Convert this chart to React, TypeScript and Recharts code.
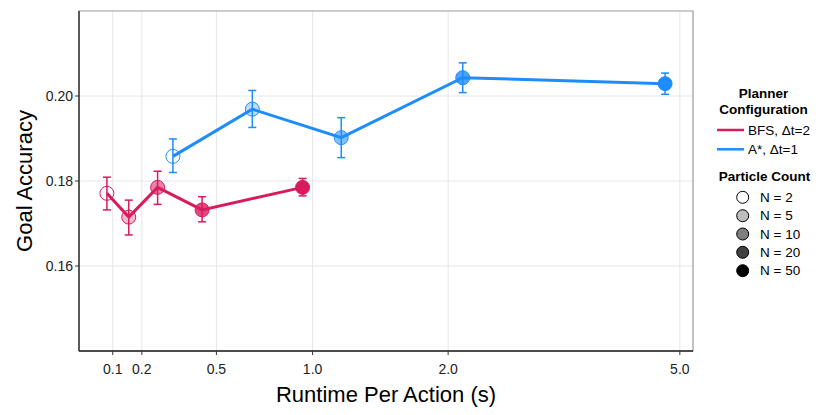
import React from 'react';
import {
  ComposedChart,
  Line,
  XAxis,
  YAxis,
  CartesianGrid,
  ErrorBar,
  ReferenceArea,
  Label,
} from 'recharts';

// runtime per action (s)
const BFS_X = [0.081, 0.154, 0.258, 0.437, 0.941];
const BFS_Y = [0.1771, 0.1715, 0.1785, 0.1732, 0.1785];
const BFS_LO = [0.1732, 0.1673, 0.1745, 0.1704, 0.1765];
const BFS_HI = [0.1809, 0.1755, 0.1823, 0.1763, 0.1806];

const ASTAR_X = [0.317, 0.67, 1.179, 2.134, 4.741];
const ASTAR_Y = [0.1858, 0.1969, 0.1902, 0.2043, 0.2029];
const ASTAR_LO = [0.182, 0.1926, 0.1855, 0.2008, 0.2004];
const ASTAR_HI = [0.1899, 0.2013, 0.1949, 0.2078, 0.2054];

const PARTICLES = [2, 5, 10, 20, 50];

const X_TICKS = [0.1, 0.2, 0.5, 1, 2, 5];
const X_TICK_LABELS = ['0.1', '0.2', '0.5', '1.0', '2.0', '5.0'];
const Y_TICKS = [0.16, 0.18, 0.2];
const Y_DOMAIN: [number, number] = [0.14, 0.22];

const RED = '#d81b5c';
const BLUE = '#1e8cff';
const FONT = '"Liberation Sans", Arial, sans-serif';

const ALPHA: Record<number, number> = { 2: 0, 5: 0.3, 10: 0.55, 20: 0.8, 50: 1 };
const LEGEND_FILL: Record<number, string> = {
  2: '#ffffff',
  5: '#bdbdbd',
  10: '#7f7f7f',
  20: '#404040',
  50: '#000000',
};

// x axis uses a log1p transform
const toRows = (xs: number[], ys: number[], lo: number[], hi: number[]) =>
  xs.map((x, i) => ({
    lx: Math.log1p(x),
    y: ys[i],
    err: [ys[i] - lo[i], hi[i] - ys[i]],
    n: PARTICLES[i],
  }));

const bfsRows = toRows(BFS_X, BFS_Y, BFS_LO, BFS_HI);
const astarRows = toRows(ASTAR_X, ASTAR_Y, ASTAR_LO, ASTAR_HI);

const allL = [...bfsRows, ...astarRows].map((r) => r.lx);
const lMin = Math.min(...allL);
const lMax = Math.max(...allL);
const pad = (lMax - lMin) * 0.05;
const X_DOMAIN: [number, number] = [lMin - pad, lMax + pad];

const makeDot = (color: string) => (props: any) => {
  const { cx, cy, payload, index } = props;
  return (
    <circle
      key={`dot-${color}-${index}`}
      cx={cx}
      cy={cy}
      r={7}
      fill={color}
      fillOpacity={ALPHA[payload.n]}
      stroke={color}
      strokeWidth={1}
    />
  );
};

function LegendPanel() {
  const rows = [117.3, 135.7, 154, 172.3, 190.7];
  const fs = 13.5;
  return (
    <svg
      width={130}
      height={210}
      style={{ position: 'absolute', left: 700, top: 80, fontFamily: FONT }}
    >
      <text x={63.5} y={17.8} textAnchor="middle" fontSize={fs} fontWeight="bold" fill="#000">
        Planner
      </text>
      <text x={63.5} y={33.8} textAnchor="middle" fontSize={fs} fontWeight="bold" fill="#000">
        Configuration
      </text>
      <line x1={17} x2={44} y1={50} y2={50} stroke={RED} strokeWidth={2.5} />
      <text x={48} y={54.7} fontSize={fs} fill="#000">BFS, Δt=2</text>
      <line x1={17} x2={44} y1={69.3} y2={69.3} stroke={BLUE} strokeWidth={2.5} />
      <text x={48} y={74} fontSize={fs} fill="#000">A*, Δt=1</text>
      <text x={64.5} y={101.2} textAnchor="middle" fontSize={fs} fontWeight="bold" fill="#000">
        Particle Count
      </text>
      {PARTICLES.map((n, i) => (
        <g key={n}>
          <circle cx={42.7} cy={rows[i]} r={6} fill={LEGEND_FILL[n]} stroke="#000" strokeWidth={1} />
          <text x={60} y={rows[i] + 4.7} fontSize={fs} fill="#000">
            N = {n}
          </text>
        </g>
      ))}
    </svg>
  );
}

export default function App() {
  return (
    <div style={{ position: 'absolute', left: 0, top: 0, width: 830, height: 415, background: '#fff' }}>
      <ComposedChart
        width={830}
        height={415}
        margin={{ top: 11, right: 137, bottom: 0, left: 0 }}
        style={{ fontFamily: FONT }}
      >
        <CartesianGrid
          stroke="#e6e6e6"
          strokeWidth={1}
          horizontalValues={Y_TICKS}
          verticalValues={X_TICKS.map((t) => Math.log1p(t))}
        />
        <ReferenceArea
          x1={X_DOMAIN[0]}
          x2={X_DOMAIN[1]}
          y1={Y_DOMAIN[0]}
          y2={Y_DOMAIN[1]}
          fill="none"
          stroke="#9a9a9a"
          strokeWidth={1.2}
        />
        <XAxis
          type="number"
          dataKey="lx"
          domain={X_DOMAIN}
          ticks={X_TICKS.map((t) => Math.log1p(t))}
          tickFormatter={(_v: number, i: number) => X_TICK_LABELS[i]}
          allowDataOverflow
          height={64}
          stroke="#222"
          axisLine={{ stroke: '#222', strokeWidth: 1.3 }}
          tickLine={{ stroke: '#333' }}
          tickSize={4}
          tickMargin={9}
          tick={{ fontSize: 14, fill: '#222' }}
        >
          <Label
            value="Runtime Per Action (s)"
            position="insideBottom"
            offset={13}
            style={{ fontSize: 22, fill: '#000', fontFamily: FONT }}
          />
        </XAxis>
        <YAxis
          type="number"
          domain={Y_DOMAIN}
          ticks={Y_TICKS}
          tickFormatter={(v: number) => v.toFixed(2)}
          allowDataOverflow
          width={79}
          axisLine={{ stroke: '#222', strokeWidth: 1.3 }}
          tickLine={{ stroke: '#333' }}
          tickSize={4}
          tick={{ fontSize: 14, fill: '#222' }}
        >
          <Label
            value="Goal Accuracy"
            angle={-90}
            position="insideLeft"
            offset={24}
            style={{ fontSize: 22, fill: '#000', textAnchor: 'middle', fontFamily: FONT }}
          />
        </YAxis>
        <Line
          data={bfsRows}
          dataKey="y"
          stroke={RED}
          strokeWidth={3}
          dot={makeDot(RED)}
          activeDot={false}
          isAnimationActive={false}
        >
          <ErrorBar dataKey="err" direction="y" width={4} stroke={RED} strokeWidth={1.5} />
        </Line>
        <Line
          data={astarRows}
          dataKey="y"
          stroke={BLUE}
          strokeWidth={3}
          dot={makeDot(BLUE)}
          activeDot={false}
          isAnimationActive={false}
        >
          <ErrorBar dataKey="err" direction="y" width={4} stroke={BLUE} strokeWidth={1.5} />
        </Line>
      </ComposedChart>
      <LegendPanel />
    </div>
  );
}
